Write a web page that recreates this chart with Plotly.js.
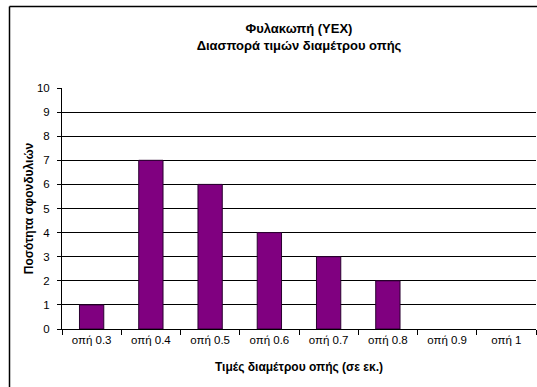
<!DOCTYPE html>
<html>
<head>
<meta charset="utf-8">
<script src="https://cdn.plot.ly/plotly-3.0.1.min.js"></script>
<style>html,body{margin:0;padding:0;background:#fff;}#chart{width:537px;height:387px;}</style>
</head>
<body>
<div id="chart"></div>
<script>
const categories = ["οπή 0.3","οπή 0.4","οπή 0.5","οπή 0.6","οπή 0.7","οπή 0.8","οπή 0.9","οπή 1"];
const counts = [1,7,6,4,3,2,0,0];
const yTicks = [0,1,2,3,4,5,6,7,8,9,10];

const L = 62, T = 88, B = 58, W = 537, H = 387;
const pw = 474, ph = H - T - B;
const px = x => (x - L) / pw;
const py = y => (H - B - y) / ph;

const trace = {
  type: 'bar',
  x: categories,
  y: counts,
  width: 0.41,
  marker: {color: '#800080', line: {color: '#2a0030', width: counts.map(v => v > 0 ? 1 : 0)}},
  hoverinfo: 'x+y'
};

const layout = {
  width: W, height: H,
  margin: {l: L, r: W - L - pw, t: T, b: B, pad: 0},
  paper_bgcolor: '#ffffff',
  plot_bgcolor: '#ffffff',
  showlegend: false,
  font: {family: 'Liberation Sans, Arial, sans-serif', color: '#000'},
  title: {
    text: '<b>Φυλακωπή (ΥΕΧ)</b><br><b>Διασπορά τιμών διαμέτρου οπής</b>',
    font: {size: 13, color: '#000'},
    x: 0.5, xref: 'paper', xanchor: 'center',
    y: 1 - 33/387, yref: 'container', yanchor: 'middle'
  },
  xaxis: {
    type: 'category',
    range: [-0.5, 7.5],
    showgrid: false,
    showline: true, linecolor: '#000', linewidth: 1,
    ticks: 'outside', ticklen: 5, tickcolor: '#000',
    tickson: 'boundaries',
    tickfont: {size: 11.5},
    ticklabelstandoff: 0,
    title: {text: '<b>Τιμές διαμέτρου οπής (σε εκ.)</b>', font: {size: 12}, standoff: 17},
    fixedrange: true
  },
  yaxis: {
    range: [0, 10],
    tickvals: yTicks,
    ticktext: yTicks.map(String),
    showgrid: true, gridcolor: '#000', gridwidth: 1,
    zeroline: false,
    showline: true, linecolor: '#000', linewidth: 1,
    ticks: 'outside', ticklen: 4, tickcolor: '#000',
    tickfont: {size: 11.5},
    ticklabelstandoff: 5,
    title: {text: '<b>Ποσότητα σφονδυλιών</b>', font: {size: 12}, standoff: 0},
    fixedrange: true
  },
  shapes: [
    {type: 'line', xref: 'paper', yref: 'paper', x0: px(9.5), x1: px(540), y0: py(6.5), y1: py(6.5), line: {color: '#000', width: 1.5}},
    {type: 'line', xref: 'paper', yref: 'paper', x0: px(9.5), x1: px(9.5), y0: py(6.5), y1: py(390), line: {color: '#000', width: 1.5}}
  ]
};

Plotly.newPlot('chart', [trace], layout, {displayModeBar: false, staticPlot: true});
</script>
</body>
</html>
